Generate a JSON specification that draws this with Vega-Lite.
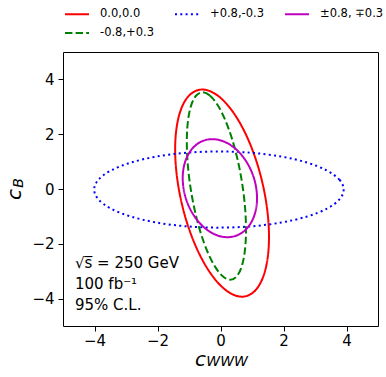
{
  "$schema": "https://vega.github.io/schema/vega-lite/v6.json",
  "width": 315,
  "height": 274,
  "autosize": "none",
  "padding": {"left": 63, "top": 52, "right": 8, "bottom": 51},
  "background": "white",
  "config": {
    "font": "DejaVu Sans",
    "view": {"stroke": "black", "strokeWidth": 1},
    "axis": {
      "grid": false,
      "domain": false,
      "tickColor": "black",
      "tickSize": 5,
      "tickWidth": 1,
      "labelColor": "black",
      "labelFontSize": 15,
      "labelFont": "DejaVu Sans",
      "titleColor": "black",
      "titleFont": "DejaVu Sans",
      "titleFontSize": 20,
      "titleFontWeight": "normal",
      "titleFontStyle": "italic"
    },
    "axisX": {"tickCount": 5, "labelPadding": 2, "titleX": 137, "titleY": 39, "titleAlign": "center", "titleBaseline": "alphabetic"},
    "axisY": {"tickCount": 5, "labelPadding": 4, "titleX": -43, "titleY": 142, "titleAngle": 270, "titleAlign": "center", "titleBaseline": "alphabetic"}
  },
  "layer": [
    {
      "data": {
        "values": [
          {"s": "0.0,0.0", "i": 0, "x": -0.58, "y": 3.63},
          {"s": "0.0,0.0", "i": 1, "x": -0.209, "y": 3.501},
          {"s": "0.0,0.0", "i": 2, "x": 0.179, "y": 3.124},
          {"s": "0.0,0.0", "i": 3, "x": 0.559, "y": 2.523},
          {"s": "0.0,0.0", "i": 4, "x": 0.904, "y": 1.74},
          {"s": "0.0,0.0", "i": 5, "x": 1.191, "y": 0.828},
          {"s": "0.0,0.0", "i": 6, "x": 1.4, "y": -0.15},
          {"s": "0.0,0.0", "i": 7, "x": 1.517, "y": -1.128},
          {"s": "0.0,0.0", "i": 8, "x": 1.534, "y": -2.04},
          {"s": "0.0,0.0", "i": 9, "x": 1.45, "y": -2.823},
          {"s": "0.0,0.0", "i": 10, "x": 1.271, "y": -3.424},
          {"s": "0.0,0.0", "i": 11, "x": 1.008, "y": -3.801},
          {"s": "0.0,0.0", "i": 12, "x": 0.68, "y": -3.93},
          {"s": "0.0,0.0", "i": 13, "x": 0.309, "y": -3.801},
          {"s": "0.0,0.0", "i": 14, "x": -0.079, "y": -3.424},
          {"s": "0.0,0.0", "i": 15, "x": -0.459, "y": -2.823},
          {"s": "0.0,0.0", "i": 16, "x": -0.804, "y": -2.04},
          {"s": "0.0,0.0", "i": 17, "x": -1.091, "y": -1.128},
          {"s": "0.0,0.0", "i": 18, "x": -1.3, "y": -0.15},
          {"s": "0.0,0.0", "i": 19, "x": -1.417, "y": 0.828},
          {"s": "0.0,0.0", "i": 20, "x": -1.434, "y": 1.74},
          {"s": "0.0,0.0", "i": 21, "x": -1.35, "y": 2.523},
          {"s": "0.0,0.0", "i": 22, "x": -1.171, "y": 3.124},
          {"s": "0.0,0.0", "i": 23, "x": -0.908, "y": 3.501},

          {"s": "-0.8,+0.3", "i": 0, "x": -0.57, "y": 3.53},
          {"s": "-0.8,+0.3", "i": 1, "x": -0.34, "y": 3.413},
          {"s": "-0.8,+0.3", "i": 2, "x": -0.096, "y": 3.072},
          {"s": "-0.8,+0.3", "i": 3, "x": 0.146, "y": 2.528},
          {"s": "-0.8,+0.3", "i": 4, "x": 0.369, "y": 1.82},
          {"s": "-0.8,+0.3", "i": 5, "x": 0.558, "y": 0.995},
          {"s": "-0.8,+0.3", "i": 6, "x": 0.7, "y": 0.11},
          {"s": "-0.8,+0.3", "i": 7, "x": 0.786, "y": -0.775},
          {"s": "-0.8,+0.3", "i": 8, "x": 0.809, "y": -1.6},
          {"s": "-0.8,+0.3", "i": 9, "x": 0.768, "y": -2.308},
          {"s": "-0.8,+0.3", "i": 10, "x": 0.666, "y": -2.852},
          {"s": "-0.8,+0.3", "i": 11, "x": 0.51, "y": -3.193},
          {"s": "-0.8,+0.3", "i": 12, "x": 0.31, "y": -3.31},
          {"s": "-0.8,+0.3", "i": 13, "x": 0.08, "y": -3.193},
          {"s": "-0.8,+0.3", "i": 14, "x": -0.164, "y": -2.852},
          {"s": "-0.8,+0.3", "i": 15, "x": -0.406, "y": -2.308},
          {"s": "-0.8,+0.3", "i": 16, "x": -0.629, "y": -1.6},
          {"s": "-0.8,+0.3", "i": 17, "x": -0.818, "y": -0.775},
          {"s": "-0.8,+0.3", "i": 18, "x": -0.96, "y": 0.11},
          {"s": "-0.8,+0.3", "i": 19, "x": -1.046, "y": 0.995},
          {"s": "-0.8,+0.3", "i": 20, "x": -1.069, "y": 1.82},
          {"s": "-0.8,+0.3", "i": 21, "x": -1.028, "y": 2.528},
          {"s": "-0.8,+0.3", "i": 22, "x": -0.926, "y": 3.072},
          {"s": "-0.8,+0.3", "i": 23, "x": -0.77, "y": 3.413},

          {"s": "+0.8,-0.3", "i": 0, "x": 3.91, "y": -0.02},
          {"s": "+0.8,-0.3", "i": 1, "x": 3.775, "y": 0.34},
          {"s": "+0.8,-0.3", "i": 2, "x": 3.379, "y": 0.675},
          {"s": "+0.8,-0.3", "i": 3, "x": 2.75, "y": 0.963},
          {"s": "+0.8,-0.3", "i": 4, "x": 1.93, "y": 1.184},
          {"s": "+0.8,-0.3", "i": 5, "x": 0.975, "y": 1.323},
          {"s": "+0.8,-0.3", "i": 6, "x": -0.05, "y": 1.37},
          {"s": "+0.8,-0.3", "i": 7, "x": -1.075, "y": 1.323},
          {"s": "+0.8,-0.3", "i": 8, "x": -2.03, "y": 1.184},
          {"s": "+0.8,-0.3", "i": 9, "x": -2.85, "y": 0.963},
          {"s": "+0.8,-0.3", "i": 10, "x": -3.479, "y": 0.675},
          {"s": "+0.8,-0.3", "i": 11, "x": -3.875, "y": 0.34},
          {"s": "+0.8,-0.3", "i": 12, "x": -4.01, "y": -0.02},
          {"s": "+0.8,-0.3", "i": 13, "x": -3.875, "y": -0.38},
          {"s": "+0.8,-0.3", "i": 14, "x": -3.479, "y": -0.715},
          {"s": "+0.8,-0.3", "i": 15, "x": -2.85, "y": -1.003},
          {"s": "+0.8,-0.3", "i": 16, "x": -2.03, "y": -1.224},
          {"s": "+0.8,-0.3", "i": 17, "x": -1.075, "y": -1.363},
          {"s": "+0.8,-0.3", "i": 18, "x": -0.05, "y": -1.41},
          {"s": "+0.8,-0.3", "i": 19, "x": 0.975, "y": -1.363},
          {"s": "+0.8,-0.3", "i": 20, "x": 1.93, "y": -1.224},
          {"s": "+0.8,-0.3", "i": 21, "x": 2.75, "y": -1.003},
          {"s": "+0.8,-0.3", "i": 22, "x": 3.379, "y": -0.715},
          {"s": "+0.8,-0.3", "i": 23, "x": 3.775, "y": -0.38},

          {"s": "±0.8, ∓0.3", "i": 0, "x": -0.26, "y": 1.82},
          {"s": "±0.8, ∓0.3", "i": 1, "x": 0.047, "y": 1.759},
          {"s": "±0.8, ∓0.3", "i": 2, "x": 0.35, "y": 1.58},
          {"s": "±0.8, ∓0.3", "i": 3, "x": 0.627, "y": 1.296},
          {"s": "±0.8, ∓0.3", "i": 4, "x": 0.86, "y": 0.925},
          {"s": "±0.8, ∓0.3", "i": 5, "x": 1.034, "y": 0.493},
          {"s": "±0.8, ∓0.3", "i": 6, "x": 1.135, "y": 0.03},
          {"s": "±0.8, ∓0.3", "i": 7, "x": 1.158, "y": -0.433},
          {"s": "±0.8, ∓0.3", "i": 8, "x": 1.1, "y": -0.865},
          {"s": "±0.8, ∓0.3", "i": 9, "x": 0.966, "y": -1.236},
          {"s": "±0.8, ∓0.3", "i": 10, "x": 0.765, "y": -1.52},
          {"s": "±0.8, ∓0.3", "i": 11, "x": 0.511, "y": -1.699},
          {"s": "±0.8, ∓0.3", "i": 12, "x": 0.22, "y": -1.76},
          {"s": "±0.8, ∓0.3", "i": 13, "x": -0.087, "y": -1.699},
          {"s": "±0.8, ∓0.3", "i": 14, "x": -0.39, "y": -1.52},
          {"s": "±0.8, ∓0.3", "i": 15, "x": -0.667, "y": -1.236},
          {"s": "±0.8, ∓0.3", "i": 16, "x": -0.9, "y": -0.865},
          {"s": "±0.8, ∓0.3", "i": 17, "x": -1.074, "y": -0.433},
          {"s": "±0.8, ∓0.3", "i": 18, "x": -1.175, "y": 0.03},
          {"s": "±0.8, ∓0.3", "i": 19, "x": -1.198, "y": 0.493},
          {"s": "±0.8, ∓0.3", "i": 20, "x": -1.14, "y": 0.925},
          {"s": "±0.8, ∓0.3", "i": 21, "x": -1.006, "y": 1.296},
          {"s": "±0.8, ∓0.3", "i": 22, "x": -0.805, "y": 1.58},
          {"s": "±0.8, ∓0.3", "i": 23, "x": -0.551, "y": 1.759}
        ]
      },
      "mark": {"type": "line", "interpolate": "cardinal-closed", "strokeWidth": 2},
      "encoding": {
        "x": {
          "field": "x", "type": "quantitative", "title": "c",
          "scale": {"domain": [-5, 5], "nice": false, "zero": false},
          "axis": {"values": [-4, -2, 0, 2, 4]}
        },
        "y": {
          "field": "y", "type": "quantitative", "title": "c",
          "scale": {"domain": [-5, 5], "nice": false, "zero": false},
          "axis": {"values": [-4, -2, 0, 2, 4]}
        },
        "order": {"field": "i", "type": "quantitative"},
        "color": {
          "field": "s", "type": "nominal",
          "scale": {
            "domain": ["0.0,0.0", "+0.8,-0.3", "±0.8, ∓0.3", "-0.8,+0.3"],
            "range": ["#ff0000", "#0000ff", "#bf00bf", "#008000"]
          },
          "legend": {
            "orient": "none", "legendX": 1, "legendY": -51,
            "direction": "horizontal", "columns": 3, "columnPadding": 7, "rowPadding": -5, "gridAlign": "all",
            "symbolType": "stroke", "symbolSize": 576, "symbolStrokeWidth": 2, "symbolOffset": 0,
            "labelFontSize": 11.5, "labelOffset": 10, "labelColor": "black",
            "title": null, "padding": 0
          }
        },
        "strokeDash": {
          "field": "s", "type": "nominal",
          "scale": {
            "domain": ["0.0,0.0", "+0.8,-0.3", "±0.8, ∓0.3", "-0.8,+0.3"],
            "range": [[1, 0], [2, 3.3], [1, 0], [7.4, 3.2]]
          },
          "legend": {
            "orient": "none", "legendX": 1, "legendY": -51,
            "direction": "horizontal", "columns": 3, "columnPadding": 7, "rowPadding": -5, "gridAlign": "all",
            "symbolType": "stroke", "symbolSize": 576, "symbolStrokeWidth": 2, "symbolOffset": 0,
            "labelFontSize": 11.5, "labelOffset": 10, "labelColor": "black",
            "title": null, "padding": 0
          }
        }
      }
    },
    {
      "data": {"values": [{"note": "√s̅ = 250 GeV\n100 fb⁻¹\n95% C.L."}]},
      "mark": {"type": "text", "align": "left", "baseline": "alphabetic", "fontSize": 15, "lineBreak": "\n", "lineHeight": 21, "color": "black"},
      "encoding": {
        "x": {"datum": -4.62, "title": "c", "axis": {"values": [-4, -2, 0, 2, 4]}},
        "y": {"datum": -2.89, "title": "c", "axis": {"values": [-4, -2, 0, 2, 4]}},
        "text": {"field": "note"}
      }
    },
    {
      "data": {"values": [{"sub": "WWW"}]},
      "mark": {"type": "text", "align": "center", "baseline": "alphabetic", "fontSize": 14, "fontStyle": "italic", "color": "black"},
      "encoding": {
        "x": {"datum": 0.21, "title": "c", "axis": {"values": [-4, -2, 0, 2, 4]}},
        "y": {"datum": -6.47, "title": "c", "axis": {"values": [-4, -2, 0, 2, 4]}},
        "text": {"field": "sub"}
      }
    },
    {
      "data": {"values": [{"sub": "B"}]},
      "mark": {"type": "text", "align": "center", "baseline": "alphabetic", "fontSize": 14, "fontStyle": "italic", "angle": 270, "color": "black"},
      "encoding": {
        "x": {"datum": -6.27, "title": "c", "axis": {"values": [-4, -2, 0, 2, 4]}},
        "y": {"datum": 0.22, "title": "c", "axis": {"values": [-4, -2, 0, 2, 4]}},
        "text": {"field": "sub"}
      }
    }
  ]
}
